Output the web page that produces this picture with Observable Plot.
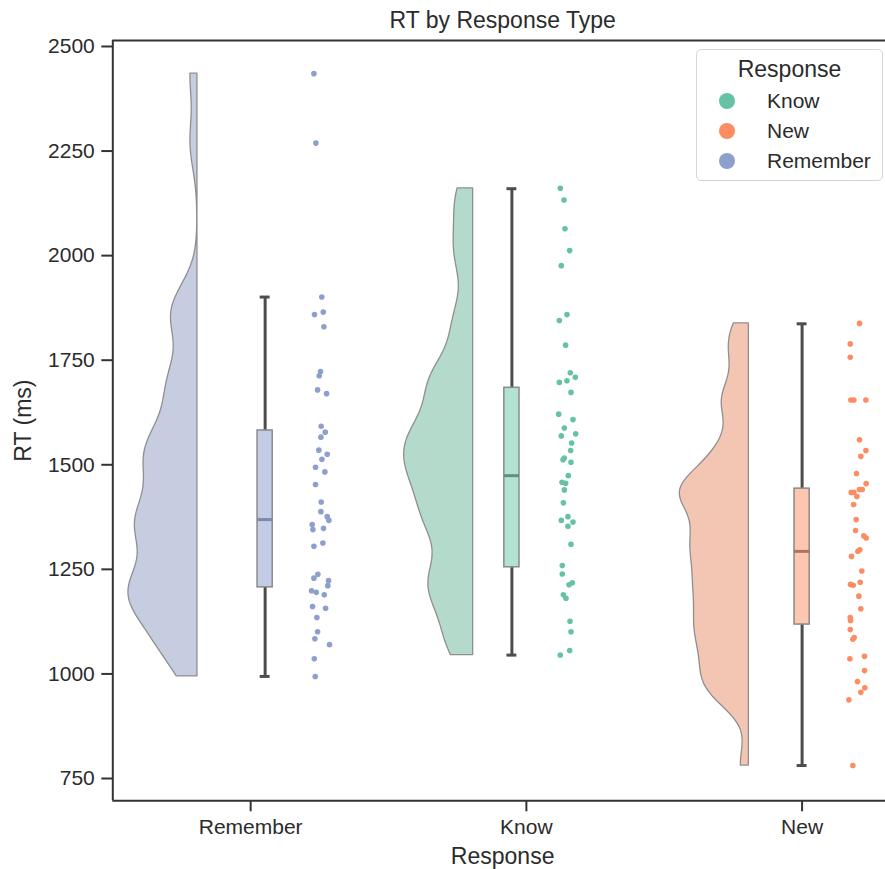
<!DOCTYPE html>
<html>
<head>
<meta charset="utf-8">
<script src="https://cdn.jsdelivr.net/npm/d3@7"></script>
<script src="https://cdn.jsdelivr.net/npm/@observablehq/plot@0.6"></script>
<style>
  html, body { margin: 0; padding: 0; background: #fff; }
  #wrap { position: relative; width: 885px; height: 869px; overflow: hidden; font-family: 'Liberation Sans', Arial, sans-serif; color: #2b2b2b; }
  #legend { position: absolute; left: 696px; top: 49px; width: 187px; height: 132px; border: 1px solid #d6d6d6; border-radius: 5px; background: rgba(255,255,255,0.85); box-sizing: border-box; }
  #legend .ttl { position: absolute; left: 0; right: 0; top: 19px; text-align: center; font-size: 23px; line-height: 1; transform: translateY(-50%); }
  #legend .row { position: absolute; left: 0; right: 0; height: 24px; }
  #legend .sw { position: absolute; left: 22px; top: 4px; width: 16px; height: 16px; border-radius: 50%; }
  #legend .lb { position: absolute; left: 70px; top: 0; font-size: 21px; line-height: 24px; }
</style>
</head>
<body>
<div id="wrap"></div>
<script>
// ---- data ----
const categories = ["Remember", "Know", "New"];
const hueOrder = ["Know", "New", "Remember"];
const yTicks = [750, 1000, 1250, 1500, 1750, 2000, 2250, 2500];

const rememberRT = [2435, 2269, 1901, 1865, 1859, 1830, 1723, 1713, 1679, 1670, 1592, 1578, 1566, 1535, 1525, 1513, 1494, 1483, 1453, 1411, 1388, 1376, 1367, 1357, 1348, 1345, 1313, 1305, 1238, 1229, 1223, 1211, 1199, 1195, 1189, 1161, 1157, 1135, 1101, 1084, 1070, 1036, 994];
const rememberJitter = [-0.74, -0.52, 0.14, 0.30, -0.67, 0.37, 0.00, -0.15, -0.33, 0.67, 0.07, 0.52, 0.04, -0.19, 0.74, 0.15, -0.56, 0.48, -0.56, 0.07, 0.04, 0.74, 0.93, -0.93, 0.33, -0.85, 0.26, -0.74, -0.30, -0.74, 0.89, 0.81, -1.00, -0.48, 0.41, -0.89, 0.56, -0.41, -0.33, -0.63, 1.00, -0.70, -0.59];

const knowRT = [2161, 2133, 2064, 2012, 1976, 1859, 1845, 1786, 1720, 1709, 1701, 1697, 1673, 1621, 1608, 1588, 1574, 1569, 1552, 1534, 1516, 1512, 1506, 1474, 1458, 1456, 1440, 1409, 1376, 1367, 1363, 1353, 1310, 1259, 1239, 1218, 1213, 1189, 1181, 1126, 1101, 1056, 1045];
const knowJitter = [-0.78, -0.37, -0.26, 0.26, -0.67, -0.04, -0.89, -0.19, 0.33, 0.89, -0.04, -0.89, 0.41, -0.96, 0.63, -0.33, 0.93, -0.67, 0.48, 0.37, -0.33, -0.48, 0.41, 0.11, -0.59, -0.19, -0.33, -0.44, 0.07, -0.67, 0.63, 0.07, 0.41, -0.56, -0.56, 0.56, 0.19, -0.44, -0.15, 0.30, 0.41, 0.26, -0.78];

const newRT = [1838, 1789, 1757, 1655, 1655, 1655, 1560, 1534, 1520, 1479, 1455, 1441, 1441, 1434, 1434, 1424, 1405, 1369, 1343, 1330, 1325, 1297, 1293, 1281, 1246, 1219, 1214, 1212, 1186, 1156, 1135, 1128, 1106, 1087, 1083, 1042, 1036, 1008, 982, 967, 956, 938, 781];
const newJitter = [0.22, -0.81, -0.81, -0.74, -0.41, 0.93, 0.22, 0.93, 0.37, -0.11, 0.96, 0.52, 0.22, -0.70, -0.41, -0.07, -0.44, -0.15, -0.22, 0.70, 0.96, 0.26, 0.04, -0.67, 0.48, 0.30, -0.78, -0.48, 0.15, 0.37, -0.81, -0.78, -0.81, -0.37, -0.52, 0.78, -0.85, 0.78, 0.00, 0.81, 0.37, -0.96, -0.52];

// box statistics (Remember, Know, New)
const whiskerLow  = [994, 1045, 781];
const q1          = [1207, 1255, 1118];
const median      = [1369, 1474, 1293];
const q3          = [1582, 1684, 1443];
const whiskerHigh = [1901, 2160, 1837];

// ---- styling ----
const pointColor  = {Remember: "#8da0cb", Know: "#66c2a5", New: "#fc8d62"};
const violinFill  = {Remember: "#c6cde1", Know: "#b4dacc", New: "#f3c6b4"};
const boxFill     = {Remember: "#c3cce6", Know: "#b2e2d2", New: "#fdc6ae"};
const medianColor = {Remember: "#7c89a8", Know: "#5c927f", New: "#b07260"};

const xDomain = [-0.5, 2.3025];
const yDomain = [696.7, 2514.3];
const violinEdge = -0.193, violinWidth = 0.2503;
const dodge = {Know: -0.0525, New: 0, Remember: 0.0525};
const boxHalf = 0.0275, capHalf = 0.018;
const pointBase = 0.201, jitterHalf = 0.0326;

const rts = {Remember: rememberRT, Know: knowRT, New: newRT};
const jit = {Remember: rememberJitter, Know: knowJitter, New: newJitter};

// half-violin density (gaussian KDE, bandwidth 0.2*sd, cut at data range)
function kde(values, n = 160) {
  const bw = 0.2 * d3.deviation(values);
  const [lo, hi] = d3.extent(values);
  const grid = d3.range(n + 1).map(i => lo + (hi - lo) * i / n);
  const dens = grid.map(y => d3.sum(values, v => Math.exp(-0.5 * ((y - v) / bw) ** 2)));
  const m = d3.max(dens);
  return grid.map((y, k) => ({y, d: dens[k] / m}));
}

const violinData = categories.flatMap((cat, i) =>
  kde(rts[cat]).map(p => ({cat, i, y: p.y, d: p.d})));

const boxData = categories.map((cat, i) => ({
  cat, i, c: i + dodge[cat],
  low: whiskerLow[i], q1: q1[i], med: median[i], q3: q3[i], high: whiskerHigh[i]
}));

const pointData = categories.flatMap((cat, i) =>
  rts[cat].map((v, k) => ({cat, i, rt: v, j: jit[cat][k]})));

const spineColor = "#333";

const chart = Plot.plot({
  width: 885,
  height: 869,
  marginLeft: 112.3,
  marginRight: 0,
  marginTop: 40,
  marginBottom: 68.7,
  style: {fontFamily: "'Liberation Sans', Arial, sans-serif", fontSize: "21px", color: "#2b2b2b", background: "white", overflow: "visible"},
  x: {domain: xDomain, axis: null},
  y: {domain: yDomain, axis: null},
  color: {type: "identity"},
  marks: [
    Plot.areaX(violinData, {
      y: "y",
      x1: d => d.i + violinEdge - violinWidth * d.d,
      x2: d => d.i + violinEdge,
      z: "cat",
      fill: d => violinFill[d.cat],
      stroke: "#8f8f8f",
      strokeWidth: 1.3,
      curve: "linear"
    }),
    Plot.ruleX(boxData, {x: "c", y1: "low", y2: "q1", stroke: "#4d4d4d", strokeWidth: 3}),
    Plot.ruleX(boxData, {x: "c", y1: "q3", y2: "high", stroke: "#4d4d4d", strokeWidth: 3}),
    Plot.ruleY(boxData, {y: "low", x1: d => d.c - capHalf, x2: d => d.c + capHalf, stroke: "#4d4d4d", strokeWidth: 3}),
    Plot.ruleY(boxData, {y: "high", x1: d => d.c - capHalf, x2: d => d.c + capHalf, stroke: "#4d4d4d", strokeWidth: 3}),
    Plot.rect(boxData, {
      x1: d => d.c - boxHalf, x2: d => d.c + boxHalf, y1: "q1", y2: "q3",
      fill: d => boxFill[d.cat], stroke: "#8a8a8a", strokeWidth: 1.5
    }),
    Plot.ruleY(boxData, {y: "med", x1: d => d.c - boxHalf, x2: d => d.c + boxHalf, stroke: d => medianColor[d.cat], strokeWidth: 3}),
    Plot.dot(pointData, {
      x: d => d.i + pointBase + dodge[d.cat] + d.j * jitterHalf,
      y: "rt", r: 2.8, fill: d => pointColor[d.cat], stroke: null
    }),
    Plot.axisY({ticks: yTicks, tickFormat: d => String(d), tickSize: 11, tickPadding: 7, strokeWidth: 2, stroke: spineColor, label: null}),
    Plot.axisX({ticks: [0, 1, 2], tickFormat: i => categories[i], tickSize: 11, tickPadding: 7, strokeWidth: 2, stroke: spineColor, label: null}),
    Plot.ruleX([xDomain[0]], {stroke: spineColor, strokeWidth: 2}),
    Plot.ruleY(yDomain, {stroke: spineColor, strokeWidth: 2}),
    Plot.text(["RT by Response Type"], {frameAnchor: "top", dy: -20, dx: 3.5, fontSize: 23, lineAnchor: "middle", fill: "#2b2b2b"}),
    Plot.text(["Response"], {frameAnchor: "bottom", dy: 55.7, dx: 3.5, fontSize: 23, lineAnchor: "middle", fill: "#2b2b2b"}),
    Plot.text(["RT (ms)"], {frameAnchor: "left", dx: -89, rotate: -90, fontSize: 23, lineAnchor: "middle", textAnchor: "middle", fill: "#2b2b2b"})
  ]
});

const wrap = document.getElementById("wrap");
wrap.appendChild(chart);

// legend
const legend = document.createElement("div");
legend.id = "legend";
const ttl = document.createElement("div");
ttl.className = "ttl";
ttl.textContent = "Response";
legend.appendChild(ttl);
hueOrder.forEach((name, k) => {
  const row = document.createElement("div");
  row.className = "row";
  row.style.top = (39 + k * 30) + "px";
  const sw = document.createElement("div");
  sw.className = "sw";
  sw.style.background = pointColor[name];
  const lb = document.createElement("div");
  lb.className = "lb";
  lb.textContent = name;
  row.appendChild(sw);
  row.appendChild(lb);
  legend.appendChild(row);
});
wrap.appendChild(legend);
</script>
</body>
</html>
